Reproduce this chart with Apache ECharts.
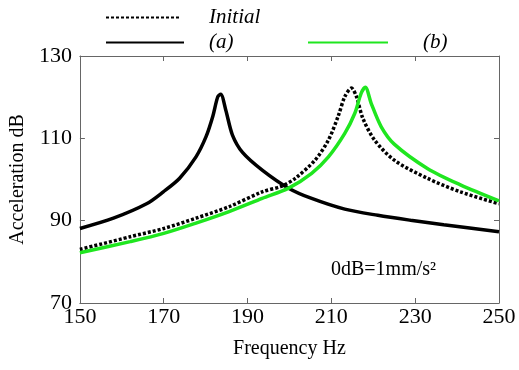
<!DOCTYPE html>
<html>
<head>
<meta charset="utf-8">
<script src="https://cdn.jsdelivr.net/npm/echarts@6/dist/echarts.min.js"></script>
<style>
  html, body { margin: 0; padding: 0; background: #fff; }
  #main { width: 519px; height: 370px; }
</style>
</head>
<body>
<div id="main"></div>
<script>
// 数据
var xTicks = [150, 170, 190, 210, 230, 250];
var yTicks = [70, 90, 110, 130];

var freqInit = [150, 162, 170, 177.7, 185.6, 193.5, 198.2, 201.4, 206.1, 209.3, 211.6, 213.2, 214.8, 216, 217.5, 220.3, 225, 232.9, 240.8, 250];
var valInit  = [83.0, 86.1, 88.1, 90.6, 93.4, 97.0, 98.4, 100.3, 104.7, 109.6, 115.3, 120.1, 122.2, 120.1, 114.9, 109.6, 104.7, 100.3, 97.0, 94.1];

var freqA = [150, 158, 165.9, 169.9, 173.8, 177.7, 180.1, 181.7, 182.9, 183.6, 184.8, 186.4, 188.8, 193.5, 199.8, 205.3, 213.2, 221.1, 228.9, 236.8, 250];
var valA  = [88.1, 90.6, 94.1, 97.0, 100.3, 105.5, 110.4, 115.3, 120.1, 120.7, 116.9, 110.8, 106.6, 102.3, 97.9, 95.4, 92.8, 91.3, 90.1, 89.0, 87.3];

var freqB = [150, 162, 170, 177.7, 185.6, 193.5, 199.8, 205.3, 209.3, 213.2, 215.6, 217.1, 218.1, 219.5, 221.9, 225, 232.9, 240.8, 250];
var valB  = [82.2, 84.9, 86.9, 89.4, 92.2, 95.4, 97.9, 101.5, 105.5, 111.2, 116.1, 120.9, 122.4, 118.5, 112.8, 108.6, 102.7, 98.7, 94.8];

function zip(xs, ys) {
  return xs.map(function (x, i) { return [x, ys[i]]; });
}

var font = 'Liberation Serif';
var axisColor = '#666';

var chart = echarts.init(document.getElementById('main'));

var legendText = function (padLeft, padTop) {
  return { fontFamily: font, fontStyle: 'italic', fontSize: 21, color: '#000', padding: [padTop, 0, 0, padLeft] };
};

var option = {
  animation: false,
  textStyle: { fontFamily: font },
  grid: { left: 76, top: 56, right: 20, bottom: 67 },
  legend: [
    {
      data: ['Initial'], left: 100, top: 2, itemWidth: 75, itemHeight: 22,
      itemStyle: { opacity: 0 },
      textStyle: legendText(23, 0)
    },
    {
      data: ['(a)'], left: 100, top: 27, itemWidth: 78, itemHeight: 22,
      itemStyle: { opacity: 0 },
      textStyle: legendText(20, 20)
    },
    {
      data: ['(b)'], left: 302, top: 27, itemWidth: 80, itemHeight: 22,
      itemStyle: { opacity: 0 },
      textStyle: legendText(30, 20)
    }
  ],
  xAxis: [
    {
      type: 'value', min: 150, max: 250,
      name: 'Frequency Hz', nameLocation: 'middle', nameGap: 36,
      nameTextStyle: { fontFamily: font, fontSize: 20, color: '#000' },
      axisLine: { lineStyle: { color: axisColor } },
      axisTick: { inside: true, length: 5, lineStyle: { color: axisColor }, customValues: xTicks },
      axisLabel: { customValues: xTicks, margin: 3, fontSize: 22, color: '#000', fontFamily: font },
      splitLine: { show: false }
    },
    {
      type: 'value', min: 150, max: 250, position: 'top',
      axisLine: { lineStyle: { color: axisColor } },
      axisTick: { inside: true, length: 5, lineStyle: { color: axisColor }, customValues: xTicks },
      axisLabel: { show: false },
      splitLine: { show: false }
    }
  ],
  yAxis: [
    {
      type: 'value', min: 70, max: 130,
      name: 'Acceleration dB', nameLocation: 'middle', nameGap: 48,
      nameTextStyle: { fontFamily: font, fontSize: 20, color: '#000' },
      axisLine: { show: true, lineStyle: { color: axisColor } },
      axisTick: { show: true, inside: true, length: 5, lineStyle: { color: axisColor }, customValues: yTicks },
      axisLabel: { customValues: yTicks, margin: 8, fontSize: 22, color: '#000', fontFamily: font },
      splitLine: { show: false }
    },
    {
      type: 'value', min: 70, max: 130, position: 'right',
      axisLine: { show: true, lineStyle: { color: axisColor } },
      axisTick: { show: true, inside: true, length: 5, lineStyle: { color: axisColor }, customValues: yTicks },
      axisLabel: { show: false },
      splitLine: { show: false }
    }
  ],
  graphic: [
    {
      type: 'text', left: 331, top: 260,
      style: { text: '0dB=1mm/s²', fontFamily: font, fontSize: 20, fill: '#000' }
    }
  ],
  series: [
    {
      name: 'Initial', type: 'line', symbol: 'none', smooth: 0.3,
      data: zip(freqInit, valInit),
      lineStyle: { color: '#000', width: 3.5, type: [3, 2] },
      itemStyle: { color: '#000' }
    },
    {
      name: '(a)', type: 'line', symbol: 'none', smooth: 0.3,
      data: zip(freqA, valA),
      lineStyle: { color: '#000', width: 3.5 },
      itemStyle: { color: '#000' }
    },
    {
      name: '(b)', type: 'line', symbol: 'none', smooth: 0.3,
      data: zip(freqB, valB),
      lineStyle: { color: '#1fe61f', width: 3.5 },
      itemStyle: { color: '#1fe61f' }
    }
  ]
};

chart.setOption(option);
</script>
</body>
</html>
